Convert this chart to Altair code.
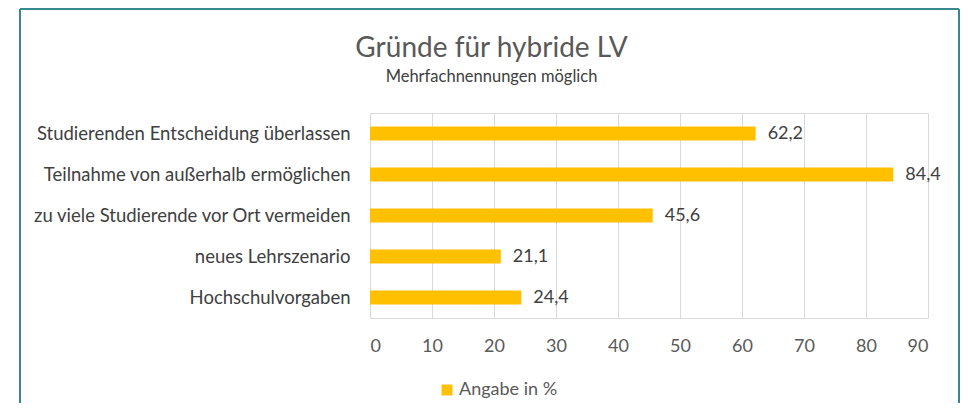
import altair as alt
import pandas as pd

categories = [
    "Studierenden Entscheidung überlassen",
    "Teilnahme von außerhalb ermöglichen",
    "zu viele Studierende vor Ort vermeiden",
    "neues Lehrszenario",
    "Hochschulvorgaben",
]
values = [62.2, 84.4, 45.6, 21.1, 24.4]
series = "Angabe in %"
x_ticks = [0, 10, 20, 30, 40, 50, 60, 70, 80, 90]
title_text = "Gründe für hybride LV"
subtitle_text = "Mehrfachnennungen möglich"

df = pd.DataFrame({"Grund": categories, "Wert": values, "Serie": [series] * len(values)})

FONT = "Lato"
BAR = "#FFC000"
TEAL = "#38898E"

base = alt.Chart(df)

bars = base.mark_bar(size=14).encode(
    y=alt.Y("Grund:N", sort=categories, title=None,
            scale=alt.Scale(paddingInner=0, paddingOuter=0),
            axis=alt.Axis(domain=False, ticks=False, labelPadding=20, labelFontSize=18.5,
                          labelColor="#404040", labelFont=FONT, labelLimit=400)),
    x=alt.X("Wert:Q", title=None,
            scale=alt.Scale(domain=[0, 90], nice=False),
            axis=alt.Axis(values=x_ticks, domain=False, ticks=False, grid=True,
                          gridColor="#D9D9D9", gridWidth=1, labelPadding=19,
                          labelFontSize=18, labelColor="#595959", labelFont=FONT)),
    color=alt.Color("Serie:N", scale=alt.Scale(range=[BAR]),
                    legend=alt.Legend(title=None, orient="none", legendX=68, legendY=268,
                                      symbolType="square", symbolSize=120, labelOffset=3,
                                      symbolStrokeWidth=0, labelFontSize=18,
                                      labelColor="#595959", labelFont=FONT)),
)

labels = base.transform_calculate(
    lab="replace(format(datum.Wert, '.1f'), '.', ',')"
).mark_text(align="left", baseline="middle", dx=12, fontSize=18, color="#404040", font=FONT).encode(
    y=alt.Y("Grund:N", sort=categories),
    x=alt.X("Wert:Q"),
    text="lab:N",
)

one = alt.Data(values=[{"k": 1}])
title_mark = alt.Chart(one).mark_text(
    text=title_text, font=FONT, fontSize=28, color="#595959", align="center", baseline="alphabetic"
).encode(x=alt.value(121.5), y=alt.value(-56))
subtitle_mark = alt.Chart(one).mark_text(
    text=subtitle_text, font=FONT, fontSize=16.5, color="#404040", align="center", baseline="alphabetic"
).encode(x=alt.value(121.5), y=alt.value(-31))

left = alt.Chart(one).mark_rule(color=TEAL, strokeWidth=2).encode(
    x=alt.value(-350), y=alt.value(-104), y2=alt.value(320))
top = alt.Chart(one).mark_rule(color=TEAL, strokeWidth=2).encode(
    x=alt.value(-350), x2=alt.value(589), y=alt.value(-104))
right = alt.Chart(one).mark_rule(color=TEAL, strokeWidth=2).encode(
    x=alt.value(589), y=alt.value(-104), y2=alt.value(320))

chart = alt.layer(bars, labels, title_mark, subtitle_mark, left, top, right).properties(
    width=558,
    height=205,
    autosize=alt.AutoSizeParams(type="none"),
    padding={"left": 362, "top": 105, "right": 32, "bottom": 85},
).configure_view(stroke=None).configure(background="white")

chart.save("out.html", embed_options={"renderer": "svg", "actions": False})
